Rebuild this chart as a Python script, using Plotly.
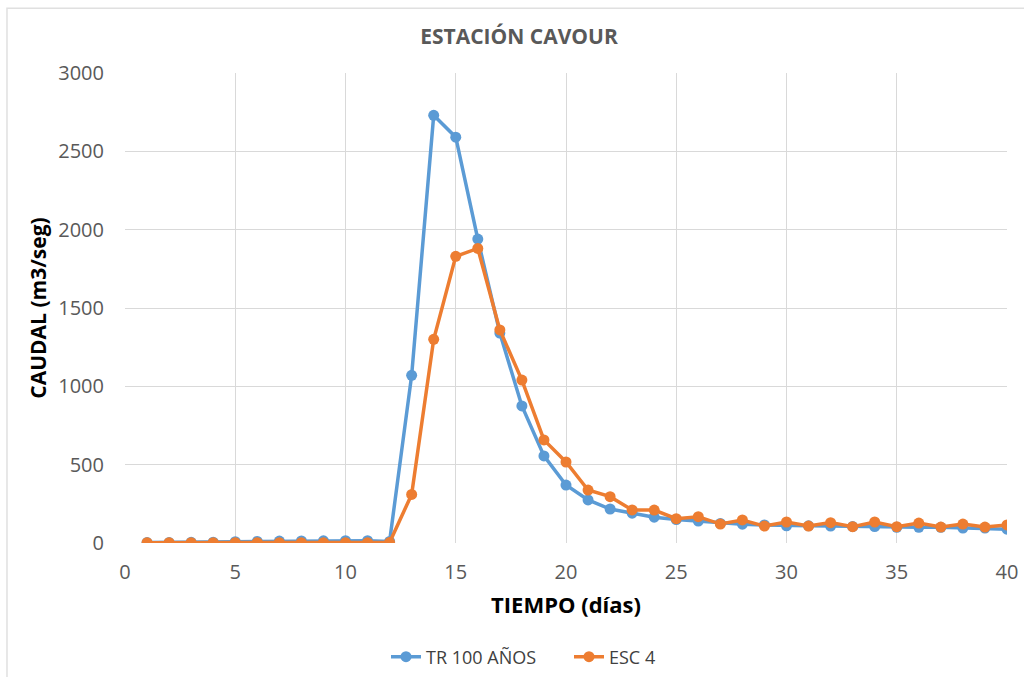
import plotly.graph_objects as go

dias = list(range(1, 41))
tr100 = [3, 3, 4, 5, 8, 10, 12, 13, 14, 15, 15, 10,
         1070, 2730, 2590, 1940, 1340, 875, 556, 370, 275, 217, 190, 165,
         150, 140, 125, 120, 115, 110, 110, 108, 105, 105, 100, 100, 100, 95, 95, 88]
esc4 = [2, 2, 2, 2, 2, 2, 2, 2, 2, 2, 2, 3,
        310, 1300, 1830, 1880, 1360, 1040, 658, 517, 338, 296, 211, 210,
        155, 168, 121, 147, 108, 134, 108, 130, 104, 134, 104, 127, 102, 121, 102, 115]

x_ticks = [0, 5, 10, 15, 20, 25, 30, 35, 40]
y_ticks = [0, 500, 1000, 1500, 2000, 2500, 3000]

FONT = "Open Sans"
grid = "#D9D9D9"

fig = go.Figure()
fig.add_trace(go.Scatter(x=dias, y=tr100, name="TR 100 AÑOS", mode="lines+markers",
                         line=dict(color="#5B9BD5", width=3.5),
                         marker=dict(color="#5B9BD5", size=11)))
fig.add_trace(go.Scatter(x=dias, y=esc4, name="ESC 4", mode="lines+markers",
                         line=dict(color="#ED7D31", width=3.5),
                         marker=dict(color="#ED7D31", size=11)))

fig.update_layout(
    width=1024, height=677,
    margin=dict(l=125, r=17, t=73, b=134, autoexpand=False),
    paper_bgcolor="white", plot_bgcolor="white",
    font=dict(family=FONT, color="#595959", size=20),
    title=dict(text="<b>ESTACIÓN CAVOUR</b>", x=519 / 1024, xref="container", xanchor="center",
               y=1 - 37 / 677, yanchor="middle",
               font=dict(family=FONT, size=21, color="#595959")),
    showlegend=True,
    legend=dict(orientation="h", x=(386 - 125) / 882, xanchor="left", y=-0.2426, yanchor="middle",
                font=dict(family=FONT, size=18, color="#404040"),
                itemwidth=30, entrywidth=138, entrywidthmode="pixels"),
    xaxis=dict(range=[0, 40], tickvals=x_ticks, showgrid=True, gridcolor=grid,
               gridwidth=1, zeroline=False, showline=False, ticks="", automargin=False,
               ticklabelstandoff=15,
               tickfont=dict(family=FONT, size=20, color="#595959"),
               title=dict(text="<b>TIEMPO (días)</b>", standoff=13,
                          font=dict(family=FONT, size=22, color="#000000"))),
    yaxis=dict(range=[0, 3000], tickvals=y_ticks, showgrid=True, gridcolor=grid,
               gridwidth=1, zeroline=False, showline=False, ticks="", automargin=False,
               ticklabelstandoff=20,
               tickfont=dict(family=FONT, size=20, color="#595959"),
               title=dict(text="<b>CAUDAL (m3/seg)</b>", standoff=5,
                          font=dict(family=FONT, size=21, color="#000000"))),
    shapes=[dict(type="rect", xref="paper", yref="paper",
                 x0=-0.1338, x1=1.03, y0=-0.32, y1=1.138,
                 line=dict(color="#E0E0E0", width=1.5), layer="below")],
)

fig.write_html("out.html", config={"displayModeBar": False},
               post_script="document.body.style.margin='0';document.body.style.overflow='hidden';")
